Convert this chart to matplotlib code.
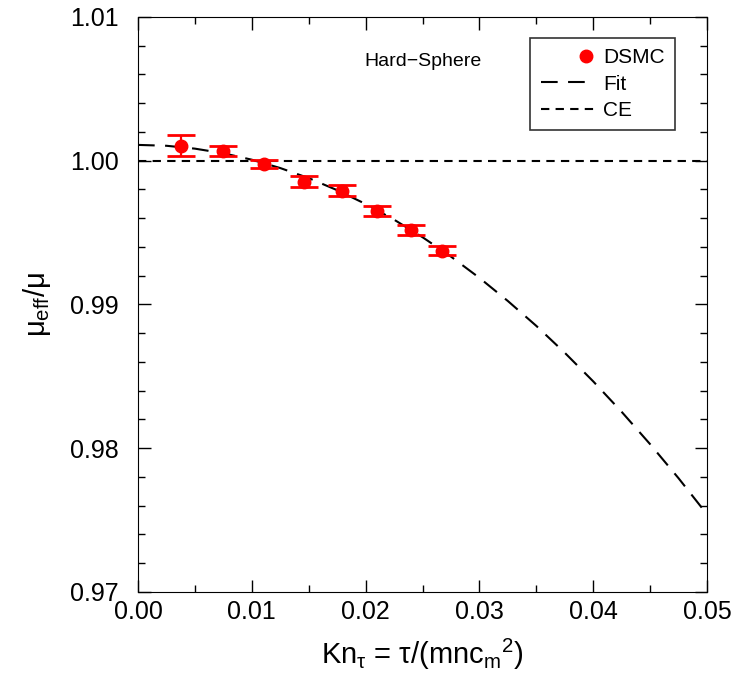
import numpy as np
import matplotlib
matplotlib.use("Agg")
import matplotlib.pyplot as plt
from matplotlib.ticker import MultipleLocator, FormatStrFormatter
from matplotlib.legend_handler import HandlerLine2D

plt.rcParams['font.family'] = ['Liberation Sans', 'DejaVu Sans']
plt.rcParams['mathtext.fontset'] = 'custom'
plt.rcParams['mathtext.rm'] = 'Liberation Sans'
plt.rcParams['mathtext.it'] = 'Liberation Sans'

# DSMC points
kn_dsmc = [0.00375, 0.0075, 0.0111, 0.01461, 0.0179, 0.02103, 0.02396, 0.02669]
mu_dsmc = [1.00103, 1.00068, 0.99975, 0.99854, 0.99790, 0.99650, 0.99516, 0.99374]
mu_err = [0.00073, 0.00036, 0.00028, 0.00040, 0.00038, 0.00035, 0.00035, 0.00030]

# fit curve
kn_fit = [0.0, 0.0025, 0.005, 0.0075, 0.01, 0.0125, 0.015, 0.0175, 0.02, 0.0225,
          0.025, 0.0275, 0.03, 0.0325, 0.035, 0.0375, 0.04, 0.0425, 0.045, 0.0475, 0.05]
mu_fit = [1.00110, 1.00104, 1.00084, 1.00052, 1.00007, 0.99949, 0.99879, 0.99795,
          0.99699, 0.99590, 0.99468, 0.99333, 0.99185, 0.99024, 0.98851, 0.98664,
          0.98465, 0.98253, 0.98028, 0.97791, 0.97540]

ce_level = 1.0


class RightMarker(HandlerLine2D):
    # gnuplot style: put the point at the right end of the key sample
    def create_artists(self, legend, orig_handle, xdescent, ydescent,
                       width, height, fontsize, trans):
        arts = super().create_artists(legend, orig_handle, xdescent, ydescent,
                                      width, height, fontsize, trans)
        for a in arts:
            a.set_xdata([width - xdescent - 6])
        return arts


fig = plt.figure(figsize=(7.44, 6.76), dpi=100)
ax = fig.add_axes([0.1855, 0.1243, 0.7648, 0.8506])

ax.plot(kn_fit, mu_fit, color='black', lw=1.5, dashes=(8, 5), label='Fit', zorder=3)
ax.axhline(ce_level, color='black', lw=1.5, dashes=(4, 3), label='CE', zorder=2)
ax.errorbar(kn_dsmc, mu_dsmc, yerr=mu_err, fmt='none', ecolor='red',
            elinewidth=1.6, capsize=10, capthick=2, zorder=4)
pts, = ax.plot(kn_dsmc, mu_dsmc, 'o', color='red', ms=9, label='DSMC', zorder=5)

ax.set_xlim(0, 0.05)
ax.set_ylim(0.97, 1.01)
ax.xaxis.set_major_locator(MultipleLocator(0.01))
ax.xaxis.set_minor_locator(MultipleLocator(0.005))
ax.yaxis.set_major_locator(MultipleLocator(0.01))
ax.yaxis.set_minor_locator(MultipleLocator(0.002))
ax.xaxis.set_major_formatter(FormatStrFormatter('%.2f'))
ax.yaxis.set_major_formatter(FormatStrFormatter('%.2f'))
ax.tick_params(which='both', direction='in', top=True, right=True, labelsize=18)
ax.tick_params(which='major', length=9, width=1)
ax.tick_params(which='minor', length=5, width=1)
ax.tick_params(axis='x', pad=6)
ax.tick_params(axis='y', pad=14)

ax.set_xlabel(r'Kn$_\tau$ = $\tau$/(mnc$_{\rm m}$$^{2}$)', fontsize=21, labelpad=9)
ax.set_ylabel(r'$\mu_{\rm eff}/\mu$', fontsize=21, labelpad=12)

ax.text(0.025, 1.0069, 'Hard\u2212Sphere', fontsize=14, ha='center', va='center')

handles, labels = ax.get_legend_handles_labels()
order = [labels.index('DSMC'), labels.index('Fit'), labels.index('CE')]
leg = ax.legend([handles[i] for i in order], [labels[i] for i in order],
                loc='upper right', bbox_to_anchor=(0.9438, 0.9635), borderaxespad=0,
                fontsize=15, frameon=True, fancybox=False, edgecolor='black',
                handlelength=2.6, handletextpad=0.4, borderpad=0.5,
                labelspacing=0.35, handler_map={pts: RightMarker(numpoints=1)})
leg.get_frame().set_linewidth(1.2)

fig.savefig('out.png', dpi=100)
